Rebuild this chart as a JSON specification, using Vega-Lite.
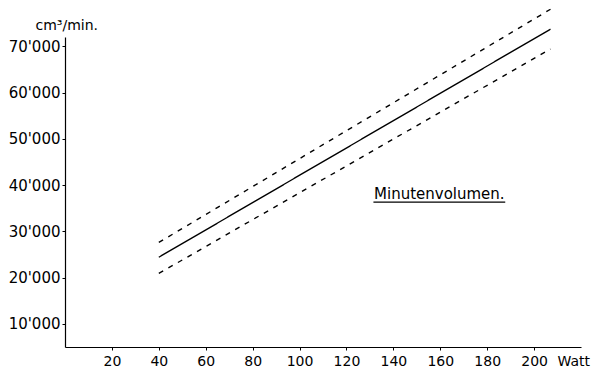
{
  "$schema": "https://vega.github.io/schema/vega-lite/v6.json",
  "width": 516,
  "height": 310,
  "autosize": {"type": "none"},
  "padding": {"left": 65, "top": 37, "right": 11, "bottom": 22},
  "background": "white",
  "config": {
    "view": {"stroke": null},
    "font": "DejaVu Sans",
    "axis": {
      "domainColor": "black",
      "domainWidth": 1.2,
      "tickColor": "black",
      "tickSize": 3,
      "grid": false,
      "labelColor": "black",
      "labelFont": "DejaVu Sans",
      "labelFontSize": 14,
      "titleFont": "DejaVu Sans",
      "titleFontSize": 14,
      "titleFontWeight": "normal",
      "titleColor": "black"
    }
  },
  "datasets": {
    "lines": [
      {"series": "Mittel", "watt": 40, "vol": 24400},
      {"series": "Mittel", "watt": 207, "vol": 73700},
      {"series": "Obere Grenze", "watt": 40, "vol": 27600},
      {"series": "Obere Grenze", "watt": 207, "vol": 78000},
      {"series": "Untere Grenze", "watt": 40, "vol": 20900},
      {"series": "Untere Grenze", "watt": 207, "vol": 69400}
    ]
  },
  "layer": [
    {
      "data": {"name": "lines"},
      "mark": {"type": "line", "color": "black", "strokeWidth": 1.4},
      "encoding": {
        "x": {
          "field": "watt",
          "type": "quantitative",
          "scale": {"domain": [0, 220], "nice": false, "zero": false},
          "axis": {
            "values": [20, 40, 60, 80, 100, 120, 140, 160, 180, 200],
            "labelPadding": 4,
            "title": "Watt",
            "titleX": 492,
            "titleY": 7,
            "titleAlign": "left",
            "titleBaseline": "top"
          }
        },
        "y": {
          "field": "vol",
          "type": "quantitative",
          "scale": {"domain": [5000, 72000], "nice": false, "zero": false},
          "axis": {
            "values": [10000, 20000, 30000, 40000, 50000, 60000, 70000],
            "labelExpr": "replace(format(datum.value, ','), ',', \"'\")",
            "labelPadding": 2,
            "labelFontSize": 15,
            "title": "cm³/min.",
            "titleAngle": 0,
            "titleX": -30,
            "titleY": -8,
            "titleAlign": "left",
            "titleBaseline": "alphabetic"
          }
        },
        "detail": {"field": "series"},
        "strokeDash": {
          "field": "series",
          "type": "nominal",
          "scale": {"domain": ["Mittel", "Obere Grenze", "Untere Grenze"], "range": [[1, 0], [5, 6], [5, 6]]},
          "legend": null
        }
      }
    },
    {
      "data": {"values": [{"label": "Minutenvolumen.", "watt": 159.6, "vol": 37000}]},
      "mark": {"type": "text", "font": "DejaVu Sans", "fontSize": 15, "color": "black", "align": "center", "baseline": "alphabetic"},
      "encoding": {
        "x": {"field": "watt", "type": "quantitative"},
        "y": {"field": "vol", "type": "quantitative"},
        "text": {"field": "label"}
      }
    },
    {
      "data": {"values": [{"x1": 131.5, "x2": 187.7, "vol": 36300}]},
      "mark": {"type": "rule", "color": "black", "strokeWidth": 1.2},
      "encoding": {
        "x": {"field": "x1", "type": "quantitative"},
        "x2": {"field": "x2"},
        "y": {"field": "vol", "type": "quantitative"}
      }
    }
  ]
}
